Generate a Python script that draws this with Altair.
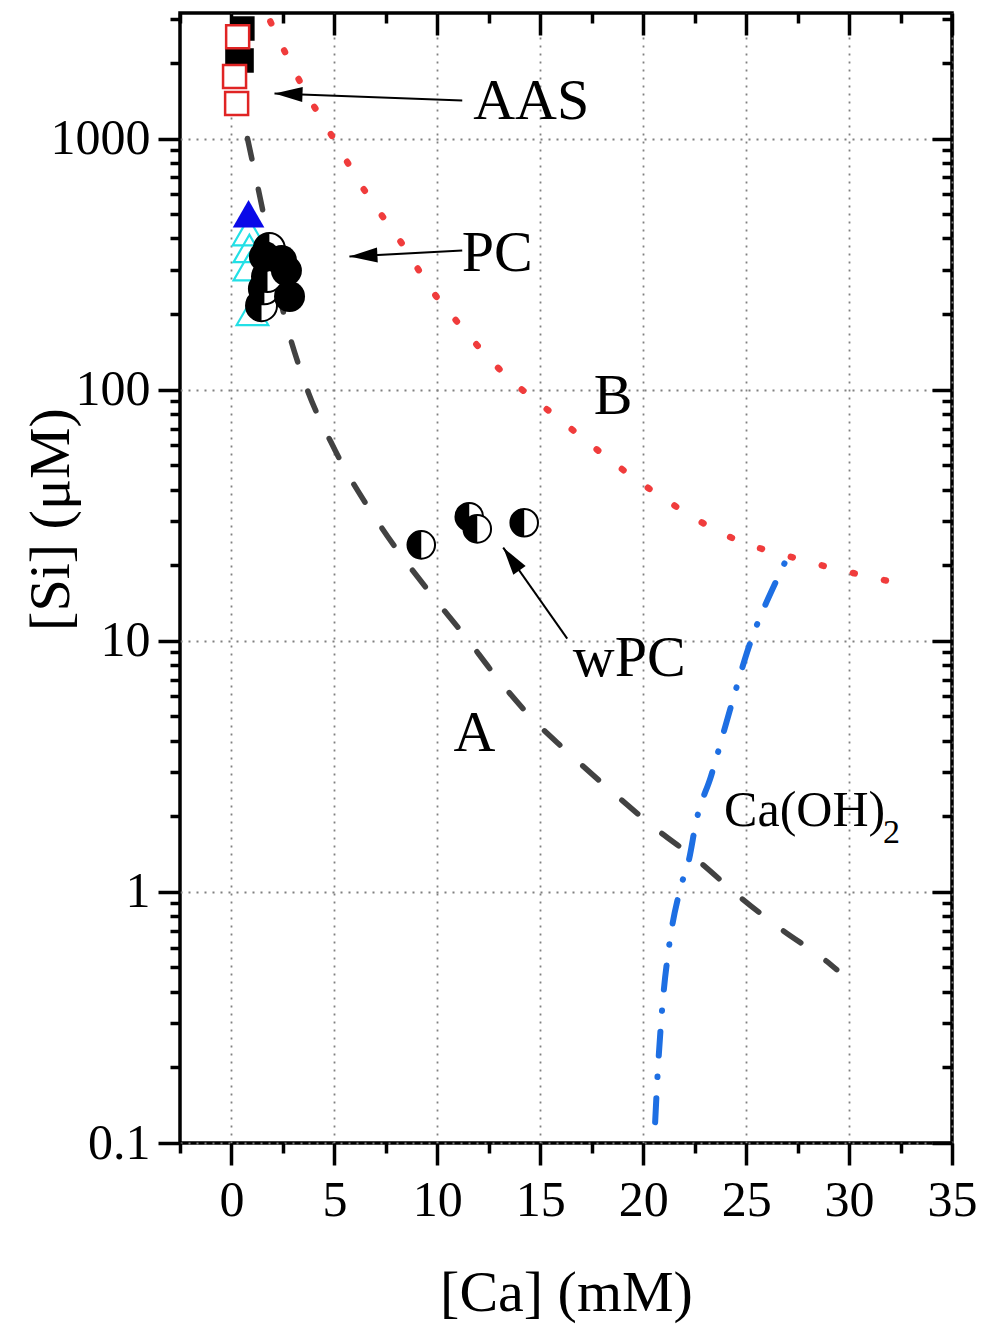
import math
import altair as alt
import pandas as pd

FONT = "Liberation Serif"

# ---------------- curves ----------------
A_ca = [0.78, 1.46, 2.48, 3.50, 5.05, 7.14, 9.76, 11.36, 12.91, 14.66, 16.17,
        18.5, 20.44, 22.72, 24.66, 26.7, 28.9, 29.4]
A_si = [1000, 546, 210, 110, 57, 29.5, 15.1, 10.4, 7.1, 4.85, 3.7,
        2.5, 1.83, 1.32, 0.96, 0.71, 0.53, 0.49]

B_ca = [1.89, 3.30, 4.90, 6.50, 8.25, 9.95, 10.83, 13.0, 15.9, 20.3, 24.4, 27.5, 31.9]
B_si = [2925, 1702, 1018, 615, 385, 235, 192, 121, 76.6, 40.3, 25.5, 21.2, 17.3]

C_ca = [20.58, 20.68, 20.92, 21.26, 21.8, 22.23, 22.57, 23.3, 24.27, 25.15, 26.46, 27.09]
C_si = [0.121, 0.175, 0.342, 0.61, 1.03, 1.35, 1.90, 2.90, 5.5, 9.55, 17.3, 22.2]

# ---------------- markers ----------------
aas_black_ca = [0.53, 0.29, 0.49]
aas_black_si = [2743, 2123, 2046]
aas_red_ca = [0.30, 0.15, 0.25]
aas_red_si = [2545, 1765, 1378]
pc_cyan_ca = [0.83, 0.87, 0.87, 1.02]
pc_cyan_si = [426, 365, 309, 205]
pc_blue_ca = [0.83]
pc_blue_si = [502]
pc_half_ca = [1.84, 1.46, 1.60, 1.75]
pc_half_si = [365, 216, 252, 282]
pc_full_ca = [1.60, 2.43, 2.67, 2.82]
pc_full_si = [339, 327, 298, 235]
wpc_ca = [9.22, 11.55, 11.94, 14.22]
wpc_si = [24.1, 31.2, 27.9, 29.5]

# ---------------- annotations ----------------
arrow_x0 = [11.21, 11.21, 16.31]
arrow_y0 = [1417, 358, 10.2]
arrow_x1 = [2.09, 5.73, 13.2]
arrow_y1 = [1511, 339, 23.5]
arrow_ang = [272, 267, 324.5]

lab_text = ["AAS", "PC", "wPC", "B", "A"]
lab_ca = [14.56, 12.91, 19.32, 18.54, 11.8]
lab_si = [1404, 348, 8.47, 93.8, 4.26]

caoh_ca = [23.93]
caoh_si = [2.10]
sub_ca = [31.65]
sub_si = [1.72]

x_major = [0, 5, 10, 15, 20, 25, 30, 35]
x_minor = [-2.5, 2.5, 7.5, 12.5, 17.5, 22.5, 27.5, 32.5]
y_major = [0.1, 1, 10, 100, 1000]
y_minor = [m * d for d in [0.1, 1, 10, 100] for m in range(2, 10)] + [2000, 3000]

# ---------------- scales ----------------
xs = alt.Scale(domain=[-2.5, 35], nice=False, zero=False)
ys = alt.Scale(type="log", domain=[0.1, 10 ** 3.5], nice=False)

axis_df = pd.DataFrame({"ca": A_ca, "si": A_si})


def axis_layer(xaxis, yaxis):
    return alt.Chart(axis_df).mark_point(opacity=0).encode(
        x=alt.X("ca:Q", scale=xs, axis=xaxis),
        y=alt.Y("si:Q", scale=ys, axis=yaxis),
    )


grid_kw = dict(grid=True, gridColor="#808080", gridDash=[2, 6], gridWidth=1.8)

ax1 = axis_layer(
    alt.Axis(orient="bottom", values=x_major, tickSize=22, format="d",
             labelPadding=10, labelFlush=False, labelOverlap=False,
             title="[Ca] (mM)", titleY=167, titleBaseline="alphabetic", **grid_kw),
    alt.Axis(orient="left", values=y_major, tickSize=22, format="~g",
             labelPadding=8, labelOverlap=False, labelFlush=False,
             title="[Si] (μM)", titleX=-112, titleY=506, titleAngle=270,
             titleBaseline="alphabetic", **grid_kw),
)
ax2 = axis_layer(
    alt.Axis(orient="bottom", values=x_minor, tickSize=10, labels=False, grid=False, title=None),
    alt.Axis(orient="left", values=y_minor, tickSize=10, labels=False, grid=False, title=None),
)
ax3 = axis_layer(
    alt.Axis(orient="top", values=x_major, tickSize=22, offset=-22, labels=False, grid=False, title=None),
    alt.Axis(orient="right", values=y_major, tickSize=20, offset=-20, labels=False, grid=False, title=None),
)
ax4 = axis_layer(
    alt.Axis(orient="top", values=x_minor, tickSize=10, offset=-10, labels=False, grid=False, title=None),
    alt.Axis(orient="right", values=y_minor, tickSize=10, offset=-10, labels=False, grid=False, title=None),
)


def enc(chart, xf="ca", yf="si"):
    return chart.encode(
        x=alt.X(f"{xf}:Q", scale=xs, axis=None),
        y=alt.Y(f"{yf}:Q", scale=ys, axis=None),
    )


def df(xv, yv):
    return pd.DataFrame({"ca": xv, "si": yv})


line_A = enc(alt.Chart(df(A_ca, A_si)).mark_line(
    color="#424242", strokeWidth=5.5, strokeDash=[21, 31], strokeCap="round", interpolate="monotone"))
line_B = enc(alt.Chart(df(B_ca, B_si)).mark_line(
    color="#F03C3C", strokeWidth=6.5, strokeDash=[2, 30], strokeCap="round", interpolate="monotone"))
line_C = enc(alt.Chart(df(C_ca, C_si)).mark_line(
    color="#1E6FE3", strokeWidth=6, strokeDash=[24, 21, 0.5, 21], strokeCap="round", interpolate="monotone"))

# half-disc path (left half filled)
pts = []
for i in range(0, 25):
    t = math.pi * i / 24
    pts.append(f"{-math.sin(t):.4f},{-math.cos(t):.4f}")
HALF = "M" + " L".join(pts) + " Z"
ARROW = "M0,0 L0.54,2 L-0.54,2 Z"

sq_black = enc(alt.Chart(df(aas_black_ca, aas_black_si)).mark_point(
    shape="square", filled=True, color="black", size=600, opacity=1))
sq_red = enc(alt.Chart(df(aas_red_ca, aas_red_si)).mark_point(
    shape="square", filled=True, fill="white", stroke="#E02424", strokeWidth=2.5, size=529, opacity=1))
tri_cyan = enc(alt.Chart(df(pc_cyan_ca, pc_cyan_si)).mark_point(
    shape="triangle-up", filled=False, color="#22E0E6", strokeWidth=2.2, size=1000, opacity=1))
tri_blue = enc(alt.Chart(df(pc_blue_ca, pc_blue_si)).mark_point(
    shape="triangle-up", filled=True, color="#0A0AE8", size=1000, opacity=1))

S_PC = 960
S_W = 760
pc_half_white = enc(alt.Chart(df(pc_half_ca, pc_half_si)).mark_point(
    shape="circle", filled=True, fill="white", stroke="black", strokeWidth=2, size=S_PC, opacity=1))
pc_half_black = enc(alt.Chart(df(pc_half_ca, pc_half_si)).mark_point(
    shape=HALF, filled=True, color="black", strokeWidth=0, size=S_PC, opacity=1))
pc_full = enc(alt.Chart(df(pc_full_ca, pc_full_si)).mark_point(
    shape="circle", filled=True, color="black", size=S_PC, opacity=1))
w_white = enc(alt.Chart(df(wpc_ca, wpc_si)).mark_point(
    shape="circle", filled=True, fill="white", stroke="black", strokeWidth=2, size=S_W, opacity=1))
w_black = enc(alt.Chart(df(wpc_ca, wpc_si)).mark_point(
    shape=HALF, filled=True, color="black", strokeWidth=0, size=S_W, opacity=1))

arrow_df = pd.DataFrame({"x0": arrow_x0, "y0": arrow_y0, "x1": arrow_x1,
                         "y1": arrow_y1, "ang": arrow_ang})
arrow_lines = alt.Chart(arrow_df).mark_rule(color="black", strokeWidth=2).encode(
    x=alt.X("x0:Q", scale=xs, axis=None), x2="x1:Q",
    y=alt.Y("y0:Q", scale=ys, axis=None), y2="y1:Q")
arrow_heads = alt.Chart(arrow_df).mark_point(
    shape=ARROW, filled=True, color="black", strokeWidth=0, size=784, opacity=1).encode(
    x=alt.X("x1:Q", scale=xs, axis=None),
    y=alt.Y("y1:Q", scale=ys, axis=None),
    angle=alt.Angle("ang:Q", scale=None))

labels = enc(alt.Chart(pd.DataFrame({"ca": lab_ca, "si": lab_si, "t": lab_text})).mark_text(
    font=FONT, fontSize=58, color="black", align="center", baseline="middle")).encode(text="t:N")
caoh = enc(alt.Chart(pd.DataFrame({"ca": caoh_ca, "si": caoh_si, "t": ["Ca(OH)"]})).mark_text(
    font=FONT, fontSize=50, color="black", align="left", baseline="middle")).encode(text="t:N")
sub = enc(alt.Chart(pd.DataFrame({"ca": sub_ca, "si": sub_si, "t": ["2"]})).mark_text(
    font=FONT, fontSize=34, color="black", align="left", baseline="middle")).encode(text="t:N")

chart = alt.layer(
    ax1, ax2, ax3, ax4,
    line_A, line_B, line_C,
    sq_black, sq_red, tri_cyan, tri_blue,
    pc_half_white, pc_half_black, pc_full,
    w_white, w_black,
    arrow_lines, arrow_heads,
    labels, caoh, sub,
).resolve_axis(x="independent", y="independent").properties(
    width=772, height=1130,
    autosize=alt.AutoSizeParams(type="none"),
    padding={"left": 180, "top": 13, "right": 29, "bottom": 183},
).configure_view(stroke="black", strokeWidth=3.5).configure_axis(
    labelFont=FONT, titleFont=FONT, labelFontSize=50, titleFontSize=58,
    titleFontWeight="normal", labelColor="black", titleColor="black",
    tickColor="black", tickWidth=3.5, domain=False,
)

chart.save("out.html", embed_options={"renderer": "svg", "actions": False})
